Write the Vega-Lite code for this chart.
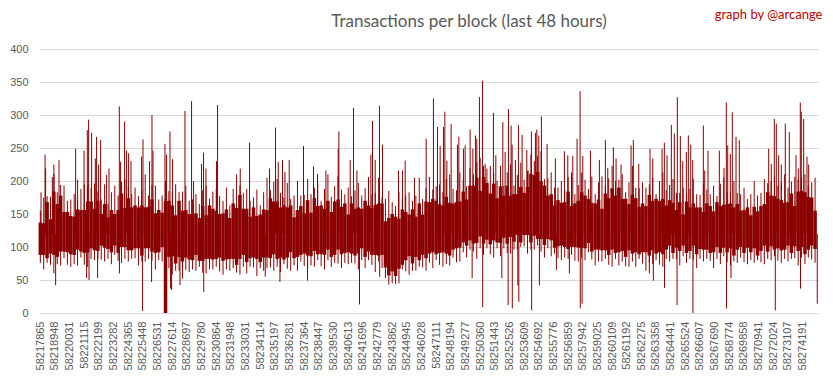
{
  "$schema": "https://vega.github.io/schema/vega-lite/v6.json",
  "width": 778,
  "height": 264,
  "autosize": {"type": "none"},
  "padding": {"left": 40, "top": 49, "right": 15, "bottom": 66},
  "background": "white",
  "title": {
    "text": "Transactions per block (last 48 hours)",
    "font": "Lato",
    "fontSize": 17,
    "fontWeight": "normal",
    "color": "#595959",
    "anchor": "middle",
    "frame": "group",
    "baseline": "alphabetic",
    "dx": 40,
    "offset": -36
  },
  "config": {
    "view": {"stroke": null},
    "axisY": {
      "values": [0, 50, 100, 150, 200, 250, 300, 350, 400],
      "grid": true,
      "gridColor": "#d9d9d9",
      "domain": false,
      "ticks": false,
      "labelColor": "#595959",
      "labelFont": "Liberation Sans",
      "labelFontSize": 11,
      "labelPadding": 12,
      "titleAngle": 0,
      "titleAlign": "right",
      "titleBaseline": "alphabetic",
      "titleX": 782,
      "titleY": -31,
      "titleColor": "#c00000",
      "titleFont": "Lato",
      "titleFontSize": 13,
      "titleFontWeight": "normal"
    }
  },
  "encoding": {
    "x": {
      "field": "block",
      "type": "quantitative",
      "scale": {"domain": [58217840, 58275330], "nice": false, "zero": false},
      "axis": {
        "title": null,
        "values": [58217865, 58218948, 58220031, 58221115, 58222199, 58223282, 58224365, 58225448, 58226531, 58227614, 58228697, 58229780, 58230864, 58231948, 58233031, 58234114, 58235197, 58236281, 58237364, 58238447, 58239530, 58240613, 58241696, 58242779, 58243862, 58244945, 58246028, 58247111, 58248194, 58249277, 58250360, 58251443, 58252526, 58253609, 58254692, 58255776, 58256859, 58257942, 58259025, 58260109, 58261192, 58262275, 58263358, 58264441, 58265524, 58266607, 58267690, 58268774, 58269858, 58270941, 58272024, 58273107, 58274191],
        "format": "d",
        "labelAngle": -90,
        "grid": false,
        "ticks": false,
        "domainColor": "#d9d9d9",
        "labelColor": "#595959",
        "labelFont": "Liberation Sans",
        "labelFontSize": 11,
        "labelPadding": 8,
        "labelOverlap": false,
        "labelFlush": false,
        "labelBound": false
      }
    },
    "y": {
      "field": "tx",
      "type": "quantitative",
      "scale": {"domain": [0, 400], "nice": false},
      "axis": {"title": "graph by @arcange"}
    }
  },
  "layer": [
    {
      "data": {"name": "band", "values": [
        {"block":58217865,"tx":137,"lo":88,"pk":155,"dp":76},{"block":58218115,"tx":136,"lo":88,"pk":175,"dp":66},{"block":58218365,"tx":168,"lo":83,"pk":177,"dp":76},{"block":58218615,"tx":142,"lo":90,"pk":176,"dp":73},{"block":58218865,"tx":184,"lo":88,"pk":225,"dp":60},{"block":58219115,"tx":165,"lo":85,"pk":183,"dp":74},
        {"block":58219365,"tx":178,"lo":93,"pk":194,"dp":72},{"block":58219615,"tx":153,"lo":93,"pk":193,"dp":83},{"block":58219865,"tx":153,"lo":92,"pk":170,"dp":73},{"block":58220115,"tx":147,"lo":89,"pk":172,"dp":70},{"block":58220365,"tx":146,"lo":88,"pk":180,"dp":74},{"block":58220615,"tx":157,"lo":96,"pk":170,"dp":72},{"block":58220865,"tx":156,"lo":93,"pk":188,"dp":84},{"block":58221115,"tx":156,"lo":91,"pk":195,"dp":73},{"block":58221365,"tx":169,"lo":92,"pk":193,"dp":70},
        {"block":58221615,"tx":169,"lo":98,"pk":189,"dp":82},{"block":58221865,"tx":158,"lo":95,"pk":196,"dp":80},{"block":58222115,"tx":170,"lo":94,"pk":184,"dp":82},{"block":58222365,"tx":150,"lo":102,"pk":172,"dp":81},{"block":58222615,"tx":165,"lo":99,"pk":195,"dp":78},{"block":58222865,"tx":145,"lo":97,"pk":165,"dp":82},{"block":58223115,"tx":156,"lo":92,"pk":183,"dp":74},{"block":58223365,"tx":150,"lo":102,"pk":193,"dp":88},{"block":58223615,"tx":156,"lo":91,"pk":178,"dp":79},
        {"block":58223865,"tx":181,"lo":100,"pk":199,"dp":76},{"block":58224115,"tx":159,"lo":100,"pk":203,"dp":82},{"block":58224365,"tx":174,"lo":95,"pk":192,"dp":78},{"block":58224615,"tx":160,"lo":95,"pk":180,"dp":82},{"block":58224865,"tx":163,"lo":98,"pk":190,"dp":83},{"block":58225115,"tx":160,"lo":98,"pk":177,"dp":72},{"block":58225365,"tx":163,"lo":87,"pk":186,"dp":78},{"block":58225615,"tx":160,"lo":98,"pk":210,"dp":78},{"block":58225865,"tx":161,"lo":98,"pk":178,"dp":82},{"block":58226115,"tx":172,"lo":93,"pk":194,"dp":79},{"block":58226365,"tx":151,"lo":91,"pk":193,"dp":66},{"block":58226615,"tx":156,"lo":92,"pk":172,"dp":80},{"block":58226865,"tx":152,"lo":100,"pk":178,"dp":78},
        {"block":58227115,"tx":169,"lo":0,"pk":200,"dp":0},
        {"block":58227365,"tx":170,"lo":85,"pk":185,"dp":68},{"block":58227615,"tx":163,"lo":86,"pk":183,"dp":58},{"block":58227865,"tx":148,"lo":75,"pk":195,"dp":64},{"block":58228115,"tx":170,"lo":85,"pk":183,"dp":64},{"block":58228365,"tx":155,"lo":78,"pk":184,"dp":68},{"block":58228615,"tx":156,"lo":84,"pk":193,"dp":65},{"block":58228865,"tx":150,"lo":81,"pk":170,"dp":62},{"block":58229115,"tx":148,"lo":80,"pk":172,"dp":66},{"block":58229365,"tx":151,"lo":88,"pk":180,"dp":64},{"block":58229615,"tx":144,"lo":79,"pk":165,"dp":70},{"block":58229865,"tx":162,"lo":79,"pk":186,"dp":61},{"block":58230115,"tx":148,"lo":82,"pk":193,"dp":60},{"block":58230365,"tx":163,"lo":82,"pk":173,"dp":66},{"block":58230615,"tx":158,"lo":81,"pk":184,"dp":66},{"block":58230865,"tx":155,"lo":82,"pk":188,"dp":70},{"block":58231115,"tx":150,"lo":84,"pk":177,"dp":63},
        {"block":58231365,"tx":151,"lo":79,"pk":170,"dp":58},{"block":58231615,"tx":157,"lo":81,"pk":190,"dp":66},{"block":58231865,"tx":144,"lo":82,"pk":163,"dp":64},{"block":58232115,"tx":166,"lo":82,"pk":188,"dp":68},{"block":58232365,"tx":159,"lo":73,"pk":210,"dp":61},{"block":58232615,"tx":179,"lo":82,"pk":193,"dp":58},{"block":58232865,"tx":158,"lo":88,"pk":182,"dp":70},{"block":58233115,"tx":158,"lo":77,"pk":188,"dp":60},{"block":58233365,"tx":146,"lo":83,"pk":170,"dp":70},{"block":58233615,"tx":160,"lo":84,"pk":175,"dp":69},{"block":58233865,"tx":147,"lo":82,"pk":187,"dp":56},{"block":58234115,"tx":149,"lo":77,"pk":163,"dp":68},{"block":58234365,"tx":157,"lo":84,"pk":183,"dp":64},{"block":58234615,"tx":156,"lo":84,"pk":205,"dp":68},{"block":58234865,"tx":174,"lo":83,"pk":186,"dp":69},{"block":58235115,"tx":169,"lo":89,"pk":199,"dp":64},{"block":58235365,"tx":169,"lo":82,"pk":203,"dp":70},{"block":58235615,"tx":160,"lo":84,"pk":182,"dp":62},{"block":58235865,"tx":163,"lo":81,"pk":175,"dp":74},{"block":58236115,"tx":160,"lo":84,"pk":197,"dp":67},{"block":58236365,"tx":163,"lo":92,"pk":173,"dp":64},{"block":58236615,"tx":145,"lo":83,"pk":178,"dp":72},{"block":58236865,"tx":156,"lo":85,"pk":200,"dp":64},
        {"block":58237115,"tx":162,"lo":88,"pk":178,"dp":78},{"block":58237365,"tx":151,"lo":90,"pk":179,"dp":71},{"block":58237615,"tx":171,"lo":87,"pk":203,"dp":68},{"block":58237865,"tx":152,"lo":86,"pk":180,"dp":72},{"block":58238115,"tx":174,"lo":94,"pk":190,"dp":70},{"block":58238365,"tx":162,"lo":89,"pk":197,"dp":80},{"block":58238615,"tx":163,"lo":89,"pk":170,"dp":71},{"block":58238865,"tx":158,"lo":88,"pk":188,"dp":66},{"block":58239115,"tx":170,"lo":96,"pk":210,"dp":80},{"block":58239365,"tx":153,"lo":85,"pk":176,"dp":70},{"block":58239615,"tx":169,"lo":88,"pk":192,"dp":76},{"block":58239865,"tx":172,"lo":96,"pk":208,"dp":75},
        {"block":58240115,"tx":161,"lo":89,"pk":187,"dp":68},{"block":58240365,"tx":166,"lo":91,"pk":180,"dp":76},{"block":58240615,"tx":149,"lo":92,"pk":190,"dp":74},{"block":58240865,"tx":166,"lo":90,"pk":177,"dp":76},{"block":58241115,"tx":158,"lo":87,"pk":186,"dp":75},{"block":58241365,"tx":160,"lo":90,"pk":197,"dp":66},{"block":58241615,"tx":158,"lo":98,"pk":178,"dp":80},{"block":58241865,"tx":170,"lo":85,"pk":189,"dp":68},{"block":58242115,"tx":163,"lo":93,"pk":206,"dp":80},{"block":58242365,"tx":159,"lo":88,"pk":180,"dp":73},{"block":58242615,"tx":164,"lo":88,"pk":182,"dp":62},{"block":58242865,"tx":166,"lo":87,"pk":205,"dp":78},{"block":58243115,"tx":166,"lo":88,"pk":175,"dp":68},
        {"block":58243365,"tx":139,"lo":69,"pk":173,"dp":53},{"block":58243615,"tx":144,"lo":57,"pk":185,"dp":43},{"block":58243865,"tx":150,"lo":63,"pk":168,"dp":45},{"block":58244115,"tx":146,"lo":56,"pk":162,"dp":44},{"block":58244365,"tx":143,"lo":67,"pk":183,"dp":45},
        {"block":58244615,"tx":157,"lo":73,"pk":174,"dp":66},{"block":58244865,"tx":153,"lo":80,"pk":178,"dp":63},{"block":58245115,"tx":149,"lo":86,"pk":183,"dp":58},{"block":58245365,"tx":157,"lo":75,"pk":170,"dp":64},{"block":58245615,"tx":146,"lo":85,"pk":178,"dp":64},{"block":58245865,"tx":166,"lo":80,"pk":205,"dp":70},{"block":58246115,"tx":149,"lo":88,"pk":173,"dp":69},{"block":58246365,"tx":169,"lo":83,"pk":189,"dp":64},
        {"block":58246615,"tx":168,"lo":90,"pk":206,"dp":76},{"block":58246865,"tx":173,"lo":92,"pk":187,"dp":68},{"block":58247115,"tx":170,"lo":89,"pk":192,"dp":80},{"block":58247365,"tx":165,"lo":91,"pk":195,"dp":73},{"block":58247615,"tx":163,"lo":92,"pk":183,"dp":70},{"block":58247865,"tx":176,"lo":90,"pk":203,"dp":74},{"block":58248115,"tx":167,"lo":87,"pk":210,"dp":72},{"block":58248365,"tx":166,"lo":96,"pk":188,"dp":84},{"block":58248615,"tx":168,"lo":98,"pk":186,"dp":77},
        {"block":58248865,"tx":169,"lo":99,"pk":213,"dp":78},{"block":58249115,"tx":184,"lo":107,"pk":202,"dp":92},{"block":58249365,"tx":172,"lo":102,"pk":192,"dp":84},{"block":58249615,"tx":193,"lo":110,"pk":220,"dp":96},{"block":58249865,"tx":193,"lo":105,"pk":210,"dp":93},{"block":58250115,"tx":205,"lo":106,"pk":228,"dp":82},{"block":58250365,"tx":185,"lo":116,"pk":235,"dp":98},{"block":58250615,"tx":206,"lo":105,"pk":223,"dp":88},{"block":58250865,"tx":197,"lo":111,"pk":219,"dp":98},{"block":58251115,"tx":181,"lo":104,"pk":223,"dp":89},{"block":58251365,"tx":196,"lo":110,"pk":212,"dp":84},{"block":58251615,"tx":174,"lo":107,"pk":200,"dp":98},{"block":58251865,"tx":192,"lo":106,"pk":223,"dp":86},{"block":58252115,"tx":178,"lo":114,"pk":193,"dp":98},{"block":58252365,"tx":193,"lo":105,"pk":213,"dp":91},
        {"block":58252615,"tx":178,"lo":115,"pk":225,"dp":90},{"block":58252865,"tx":180,"lo":108,"pk":193,"dp":96},{"block":58253115,"tx":180,"lo":118,"pk":209,"dp":96},{"block":58253365,"tx":191,"lo":107,"pk":228,"dp":100},{"block":58253615,"tx":182,"lo":118,"pk":202,"dp":101},{"block":58253865,"tx":191,"lo":118,"pk":215,"dp":90},{"block":58254115,"tx":211,"lo":107,"pk":240,"dp":96},{"block":58254365,"tx":209,"lo":117,"pk":230,"dp":96},{"block":58254615,"tx":214,"lo":112,"pk":238,"dp":102},{"block":58254865,"tx":200,"lo":112,"pk":245,"dp":93},{"block":58255115,"tx":193,"lo":103,"pk":203,"dp":84},{"block":58255365,"tx":178,"lo":112,"pk":204,"dp":98},
        {"block":58255615,"tx":180,"lo":110,"pk":213,"dp":86},{"block":58255865,"tx":163,"lo":99,"pk":190,"dp":90},{"block":58256115,"tx":171,"lo":101,"pk":190,"dp":83},{"block":58256365,"tx":167,"lo":102,"pk":200,"dp":80},{"block":58256615,"tx":168,"lo":100,"pk":187,"dp":84},{"block":58256865,"tx":184,"lo":97,"pk":206,"dp":82},{"block":58257115,"tx":162,"lo":100,"pk":213,"dp":88},{"block":58257365,"tx":166,"lo":100,"pk":180,"dp":79},{"block":58257615,"tx":170,"lo":99,"pk":194,"dp":78},{"block":58257865,"tx":183,"lo":99,"pk":213,"dp":84},{"block":58258115,"tx":178,"lo":98,"pk":202,"dp":80},{"block":58258365,"tx":173,"lo":106,"pk":188,"dp":92},{"block":58258615,"tx":167,"lo":93,"pk":207,"dp":81},
        {"block":58258865,"tx":166,"lo":96,"pk":180,"dp":72},{"block":58259115,"tx":172,"lo":96,"pk":198,"dp":78},{"block":58259365,"tx":158,"lo":95,"pk":207,"dp":78},{"block":58259615,"tx":181,"lo":95,"pk":193,"dp":82},{"block":58259865,"tx":174,"lo":88,"pk":204,"dp":73},{"block":58260115,"tx":189,"lo":96,"pk":223,"dp":70},{"block":58260365,"tx":178,"lo":91,"pk":200,"dp":82},{"block":58260615,"tx":190,"lo":92,"pk":202,"dp":72},{"block":58260865,"tx":173,"lo":94,"pk":210,"dp":78},{"block":58261115,"tx":173,"lo":85,"pk":183,"dp":71},{"block":58261365,"tx":165,"lo":95,"pk":198,"dp":70},{"block":58261615,"tx":179,"lo":90,"pk":223,"dp":78},{"block":58261865,"tx":174,"lo":92,"pk":190,"dp":70},{"block":58262115,"tx":161,"lo":89,"pk":189,"dp":82},{"block":58262365,"tx":166,"lo":92,"pk":198,"dp":75},{"block":58262615,"tx":162,"lo":92,"pk":190,"dp":64},{"block":58262865,"tx":179,"lo":87,"pk":195,"dp":76},{"block":58263115,"tx":170,"lo":95,"pk":205,"dp":74},{"block":58263365,"tx":173,"lo":90,"pk":180,"dp":80},{"block":58263615,"tx":170,"lo":92,"pk":200,"dp":73},{"block":58263865,"tx":173,"lo":89,"pk":213,"dp":70},
        {"block":58264115,"tx":163,"lo":96,"pk":186,"dp":82},{"block":58264365,"tx":171,"lo":102,"pk":194,"dp":78},{"block":58264615,"tx":167,"lo":91,"pk":203,"dp":82},{"block":58264865,"tx":156,"lo":99,"pk":182,"dp":81},{"block":58265115,"tx":168,"lo":94,"pk":182,"dp":72},{"block":58265365,"tx":149,"lo":102,"pk":190,"dp":86},{"block":58265615,"tx":169,"lo":91,"pk":180,"dp":76},{"block":58265865,"tx":160,"lo":94,"pk":188,"dp":82},{"block":58266115,"tx":166,"lo":102,"pk":203,"dp":81},{"block":58266365,"tx":160,"lo":89,"pk":180,"dp":68},{"block":58266615,"tx":160,"lo":97,"pk":179,"dp":82},{"block":58266865,"tx":153,"lo":96,"pk":196,"dp":78},{"block":58267115,"tx":166,"lo":96,"pk":187,"dp":82},{"block":58267365,"tx":162,"lo":91,"pk":180,"dp":79},{"block":58267615,"tx":154,"lo":92,"pk":193,"dp":68},{"block":58267865,"tx":168,"lo":100,"pk":177,"dp":82},{"block":58268115,"tx":162,"lo":91,"pk":196,"dp":74},{"block":58268365,"tx":164,"lo":99,"pk":205,"dp":86},{"block":58268615,"tx":165,"lo":92,"pk":183,"dp":77},{"block":58268865,"tx":166,"lo":98,"pk":182,"dp":72},{"block":58269115,"tx":160,"lo":87,"pk":200,"dp":78},{"block":58269365,"tx":165,"lo":96,"pk":182,"dp":76},
        {"block":58269615,"tx":155,"lo":100,"pk":180,"dp":84},{"block":58269865,"tx":156,"lo":91,"pk":190,"dp":77},{"block":58270115,"tx":160,"lo":99,"pk":173,"dp":74},{"block":58270365,"tx":148,"lo":92,"pk":180,"dp":80},{"block":58270615,"tx":161,"lo":98,"pk":200,"dp":76},{"block":58270865,"tx":154,"lo":87,"pk":178,"dp":80},{"block":58271115,"tx":162,"lo":94,"pk":182,"dp":77},{"block":58271365,"tx":165,"lo":102,"pk":203,"dp":74},{"block":58271615,"tx":183,"lo":93,"pk":197,"dp":82},{"block":58271865,"tx":178,"lo":101,"pk":200,"dp":80},{"block":58272115,"tx":177,"lo":96,"pk":207,"dp":86},{"block":58272365,"tx":173,"lo":98,"pk":193,"dp":79},{"block":58272615,"tx":171,"lo":95,"pk":198,"dp":76},{"block":58272865,"tx":167,"lo":96,"pk":210,"dp":82},{"block":58273115,"tx":168,"lo":102,"pk":190,"dp":78},{"block":58273365,"tx":181,"lo":91,"pk":199,"dp":82},{"block":58273615,"tx":162,"lo":101,"pk":206,"dp":83},{"block":58273865,"tx":184,"lo":94,"pk":202,"dp":72},{"block":58274115,"tx":185,"lo":100,"pk":205,"dp":84},{"block":58274365,"tx":183,"lo":89,"pk":210,"dp":74},{"block":58274615,"tx":176,"lo":96,"pk":193,"dp":84},{"block":58274865,"tx":175,"lo":102,"pk":198,"dp":81},{"block":58275115,"tx":155,"lo":97,"pk":205,"dp":76}
      ]},
      "layer": [
        {
          "mark": {"type": "rule", "strokeWidth": 3.5, "color": "#8b0000", "strokeCap": "butt"},
          "encoding": {"y2": {"field": "lo"}}
        },
        {
          "mark": {"type": "rule", "strokeWidth": 1, "color": "#8b0000", "strokeCap": "butt"},
          "encoding": {
            "y": {"field": "pk", "type": "quantitative", "scale": {"domain": [0, 400], "nice": false}, "axis": {"title": "graph by @arcange"}},
            "y2": {"field": "dp"}
          }
        }
      ]
    },
    {
      "data": {"values": [
        {"block":58217917,"tx":183},{"block":58218212,"tx":240},{"block":58218256,"tx":219},{"block":58218751,"tx":206},{"block":58218877,"tx":211},{"block":58219246,"tx":232},{"block":58220472,"tx":249},{"block":58220620,"tx":202},{"block":58221093,"tx":246},{"block":58221336,"tx":277},{"block":58221432,"tx":293},{"block":58221654,"tx":273},{"block":58221927,"tx":234},{"block":58222023,"tx":267},{"block":58222171,"tx":225},{"block":58222319,"tx":262},{"block":58222762,"tx":209},{"block":58222939,"tx":219},{"block":58223700,"tx":313},{"block":58223796,"tx":229},{"block":58224091,"tx":290},{"block":58224239,"tx":246},{"block":58224387,"tx":242},{"block":58224564,"tx":230},{"block":58225347,"tx":237},{"block":58225450,"tx":263},{"block":58225938,"tx":230},{"block":58226115,"tx":300},{"block":58226189,"tx":246},{"block":58227075,"tx":256},{"block":58227194,"tx":240},{"block":58227445,"tx":275},{"block":58227637,"tx":233},{"block":58228553,"tx":306},{"block":58229040,"tx":321},{"block":58229188,"tx":200},{"block":58229779,"tx":226},{"block":58229926,"tx":243},{"block":58230104,"tx":219},{"block":58230887,"tx":230},{"block":58230960,"tx":315},{"block":58232637,"tx":219},{"block":58233324,"tx":258},{"block":58234801,"tx":219},{"block":58235244,"tx":281},{"block":58235444,"tx":229},{"block":58235761,"tx":232},{"block":58235939,"tx":214},{"block":58236256,"tx":232},{"block":58237312,"tx":253},{"block":58238051,"tx":222},{"block":58238346,"tx":211},{"block":58238967,"tx":216},{"block":58239875,"tx":249},{"block":58239927,"tx":275},{"block":58240762,"tx":232},{"block":58241005,"tx":311},{"block":58241257,"tx":216},{"block":58242290,"tx":240},{"block":58242409,"tx":291},{"block":58242608,"tx":232},{"block":58242926,"tx":314},{"block":58243148,"tx":255},{"block":58244329,"tx":216},{"block":58244625,"tx":216},{"block":58244824,"tx":231},{"block":58245511,"tx":205},{"block":58246375,"tx":264},{"block":58246914,"tx":325},{"block":58247210,"tx":282},{"block":58247409,"tx":253},{"block":58247653,"tx":282},{"block":58247756,"tx":305},{"block":58247904,"tx":231},{"block":58248221,"tx":286},{"block":58248687,"tx":255},{"block":58248790,"tx":267},{"block":58249130,"tx":249},{"block":58249256,"tx":254},{"block":58249625,"tx":278},{"block":58249825,"tx":249},{"block":58250017,"tx":269},{"block":58250120,"tx":264},{"block":58250312,"tx":327},{"block":58250534,"tx":352},{"block":58250733,"tx":226},{"block":58251346,"tx":303},{"block":58251523,"tx":239},{"block":58252040,"tx":289},{"block":58252210,"tx":244},{"block":58252454,"tx":309},{"block":58252653,"tx":284},{"block":58252727,"tx":255},{"block":58252971,"tx":232},{"block":58253192,"tx":285},{"block":58253466,"tx":270},{"block":58253813,"tx":247},{"block":58253909,"tx":216},{"block":58254153,"tx":275},{"block":58254448,"tx":273},{"block":58254552,"tx":278},{"block":58254699,"tx":269},{"block":58254892,"tx":298},{"block":58255312,"tx":256},{"block":58255925,"tx":234},{"block":58256590,"tx":245},{"block":58256841,"tx":239},{"block":58257210,"tx":238},{"block":58257528,"tx":264},{"block":58257749,"tx":336},{"block":58257949,"tx":238},{"block":58258510,"tx":246},{"block":58259175,"tx":232},{"block":58259618,"tx":262},{"block":58259795,"tx":220},{"block":58260209,"tx":251},{"block":58260408,"tx":234},{"block":58260778,"tx":225},{"block":58261516,"tx":254},{"block":58261686,"tx":262},{"block":58262085,"tx":226},{"block":58262920,"tx":249},{"block":58263119,"tx":234},{"block":58263806,"tx":249},{"block":58263976,"tx":258},{"block":58264175,"tx":239},{"block":58264493,"tx":285},{"block":58264714,"tx":272},{"block":58264936,"tx":327},{"block":58265158,"tx":268},{"block":58265335,"tx":230},{"block":58265601,"tx":244},{"block":58265749,"tx":269},{"block":58265926,"tx":255},{"block":58266074,"tx":232},{"block":58266857,"tx":284},{"block":58266960,"tx":216},{"block":58267203,"tx":246},{"block":58268038,"tx":246},{"block":58268385,"tx":220},{"block":58268555,"tx":319},{"block":58268658,"tx":254},{"block":58268850,"tx":241},{"block":58268998,"tx":304},{"block":58269272,"tx":267},{"block":58269515,"tx":262},{"block":58271687,"tx":249},{"block":58271879,"tx":226},{"block":58272101,"tx":294},{"block":58272248,"tx":287},{"block":58272425,"tx":239},{"block":58272617,"tx":225},{"block":58272913,"tx":287},{"block":58273208,"tx":274},{"block":58273703,"tx":239},{"block":58273873,"tx":219},{"block":58274021,"tx":319},{"block":58274095,"tx":305},{"block":58274272,"tx":294},{"block":58274516,"tx":237},{"block":58274642,"tx":225},
        {"block":58218995,"tx":42},{"block":58221285,"tx":53},{"block":58221462,"tx":50},{"block":58222097,"tx":53},{"block":58223710,"tx":60},{"block":58225421,"tx":3},{"block":58226086,"tx":47},{"block":58227489,"tx":37},{"block":58227563,"tx":35},{"block":58228183,"tx":42},{"block":58228375,"tx":52},{"block":58229940,"tx":32},{"block":58234484,"tx":55},{"block":58235569,"tx":47},{"block":58237608,"tx":49},{"block":58241449,"tx":13},{"block":58242940,"tx":55},{"block":58249773,"tx":53},{"block":58250550,"tx":9},{"block":58251966,"tx":53},{"block":58252432,"tx":12},{"block":58252740,"tx":7},{"block":58253148,"tx":42},{"block":58253222,"tx":17},{"block":58254170,"tx":4},{"block":58254744,"tx":42},{"block":58255999,"tx":65},{"block":58256959,"tx":60},{"block":58257765,"tx":7},{"block":58257897,"tx":14},{"block":58262868,"tx":60},{"block":58263164,"tx":49},{"block":58263990,"tx":38},{"block":58264914,"tx":12},{"block":58266090,"tx":0},{"block":58268570,"tx":7},{"block":58268902,"tx":53},{"block":58272174,"tx":4},{"block":58274035,"tx":37},{"block":58275276,"tx":14}
      ]},
      "mark": {"type": "rule", "strokeWidth": 1, "color": "#8b0000"},
      "encoding": {"y2": {"datum": 120}}
    }
  ]
}
